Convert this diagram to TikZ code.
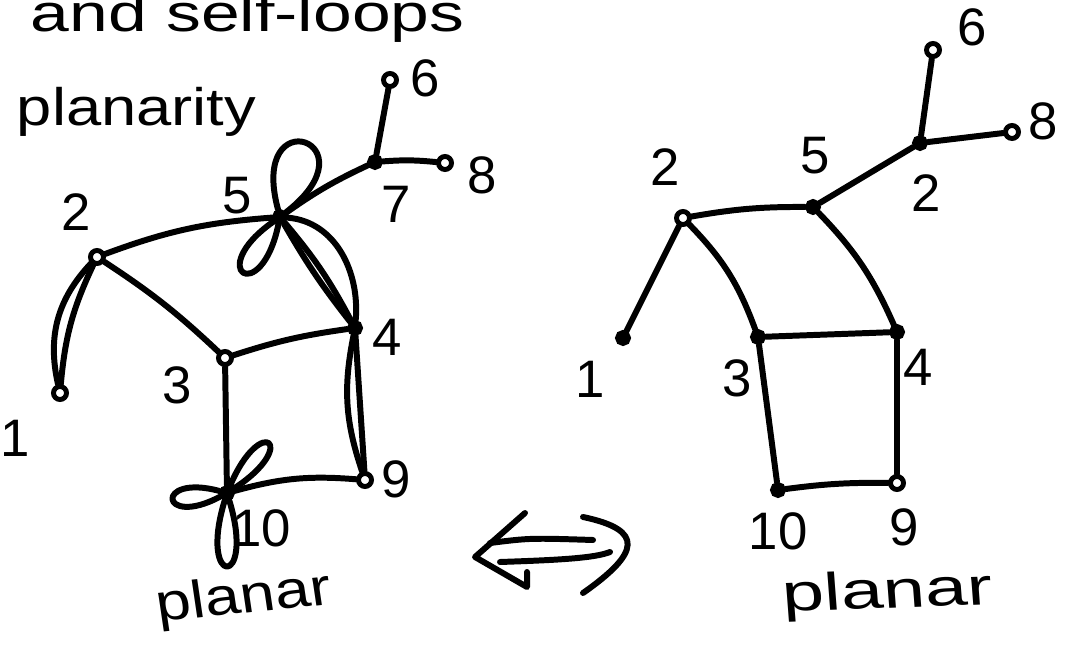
\documentclass[tikz,border=0pt]{standalone}
\usepackage{fontspec}
\setmainfont{Liberation Sans}
\usetikzlibrary{arrows.meta,positioning}

\begin{document}
\begin{tikzpicture}[
    x=0.01cm, y=0.01cm,
    vtx/.style={draw, circle, line width=1.4pt, fill=white, inner sep=0pt, minimum size=0.13cm},
    dot/.style={draw, circle, line width=1.4pt, fill=black, inner sep=0pt, minimum size=0.11cm},
    lbl/.style={font=\fontsize{15}{17}\selectfont, inner sep=0pt},
    word/.style={font=\fontsize{15}{18}\selectfont, inner sep=0pt, anchor=base west, xscale=1.2},
    link/.style={line width=1.7pt, line cap=round, line join=round}
  ]
    \useasboundingbox (0,0) rectangle (1074,658);
    \clip (0,0) rectangle (1074,658);

    % heading words
    \node[word, xscale=1.1] (head) at (30,626) {and self-loops};
    \node[word] (plty) at (16,532) {planarity};

    % left graph
    \node[vtx] (m2) at (97,401) {};
    \node[dot] (m5) at (280,441) {};
    \node[dot] (m7) at (375,496) {};
    \node[vtx] (m6) at (390,578) {};
    \node[vtx] (m8) at (445,495) {};
    \node[vtx] (m3) at (225,300) {};
    \node[dot] (m4) at (355,330) {};
    \node[vtx] (m1) at (60,265) {};
    \node[vtx] (m9) at (365,178) {};
    \node[dot] (m10) at (227,165) {};

    \node[lbl] (lm2) at (76,446) {2};
    \node[lbl] (lm5) at (237,462) {5};
    \node[lbl] (lm7) at (396,454) {7};
    \node[lbl] (lm6) at (425,580) {6};
    \node[lbl] (lm8) at (482,483) {8};
    \node[lbl] (lm3) at (177,273) {3};
    \node[lbl] (lm4) at (387,321) {4};
    \node[lbl] (lm1) at (15,220) {1};
    \node[lbl] (lm9) at (396,179) {9};
    \node[lbl] (lm10) at (262,130) {10};

    \draw[link] (m2) to[bend left=8] (m5);
    \draw[link] (m2) to[bend left=5] (m3);
    \draw[link] (m2) to[bend right=28] (m1);
    \draw[link] (m2) to[bend right=10] (m1);
    \draw[link] (m5) to[bend left=5] (m7);
    \draw[link] (m7) -- (m6);
    \draw[link] (m7) to[bend left=5] (m8);
    \draw[link] (m5) to[bend left=6] (m4);
    \draw[link] (m5) to[bend right=4] (m4);
    \draw[link] (m5) to[out=-5, in=85] (m4);
    \draw[link] (m3) to[bend left=5] (m4);
    \draw[link] (m3) -- (m10);
    \draw[link] (m4) to[bend right=15] (m9);
    \draw[link] (m4) -- (m9);
    \draw[link] (m10) to[bend left=10] (m9);
    % self-loops
    \draw[link] (m5) to[out=105, in=38, min distance=1.15cm] (m5);
    \draw[link] (m5) to[out=215, in=258, min distance=0.85cm] (m5);
    \draw[link] (m10) to[out=33, in=67, min distance=0.8cm] (m10);
    \draw[link] (m10) to[out=165, in=208, min distance=0.68cm] (m10);
    \draw[link] (m10) to[out=253, in=287, min distance=0.92cm] (m10);

    \node[word, rotate=7] (pl1) at (158,36) {planar};

    % the double arrow between the two drawings
    \draw[link] (525,145) -- (475,101) -- (527,71) -- (527,86);
    \draw[link] (490,115) .. controls (530,120) .. (593,118);
    \draw[link] (500,96) .. controls (560,98) and (595,100) .. (610,106);
    \draw[link] (583,141) .. controls (645,128) and (640,105) .. (583,65);

    % right graph
    \node[vtx] (n2) at (683,440) {};
    \node[dot] (n5) at (813,451) {};
    \node[dot] (n7) at (920,515) {};
    \node[vtx] (n6) at (933,608) {};
    \node[vtx] (n8) at (1012,526) {};
    \node[dot] (n1) at (623,320) {};
    \node[dot] (n3) at (758,321) {};
    \node[dot] (n4) at (897,326) {};
    \node[dot] (n10) at (778,168) {};
    \node[vtx] (n9) at (897,175) {};

    \node[lbl] (ln2) at (665,491) {2};
    \node[lbl] (ln5) at (815,502) {5};
    \node[lbl] (ln7) at (926,465) {2};
    \node[lbl] (ln6) at (972,631) {6};
    \node[lbl] (ln8) at (1043,537) {8};
    \node[lbl] (ln1) at (590,279) {1};
    \node[lbl] (ln3) at (737,280) {3};
    \node[lbl] (ln4) at (918,291) {4};
    \node[lbl] (ln10) at (778,127) {10};
    \node[lbl] (ln9) at (904,131) {9};

    \draw[link] (n2) to[bend left=5] (n5);
    \draw[link] (n5) -- (n7);
    \draw[link] (n7) -- (n6);
    \draw[link] (n7) -- (n8);
    \draw[link] (n2) -- (n1);
    \draw[link] (n2) to[bend left=12] (n3);
    \draw[link] (n5) to[bend left=10] (n4);
    \draw[link] (n3) -- (n4);
    \draw[link] (n3) -- (n10);
    \draw[link] (n4) -- (n9);
    \draw[link] (n10) to[bend left=4] (n9);

    \node[word, xscale=1.2, rotate=3] (pl2) at (782,46) {planar};
  \end{tikzpicture}
\end{document}
